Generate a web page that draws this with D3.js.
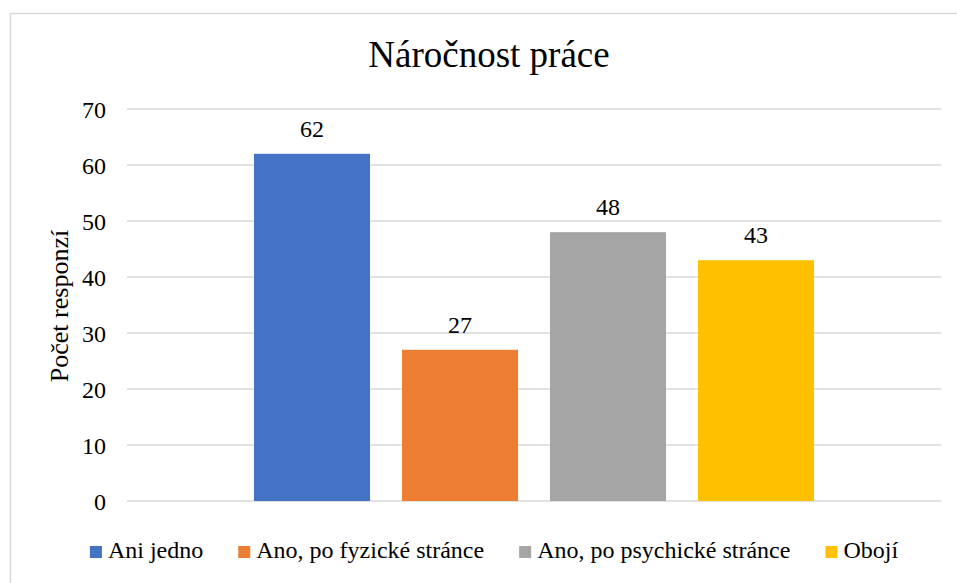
<!DOCTYPE html>
<html><head><meta charset="utf-8">
<script src="https://cdn.jsdelivr.net/npm/d3@7"></script>
<style>html,body{margin:0;padding:0;background:#fff;}svg{display:block;}svg text{font-family:"Liberation Serif";}</style>
</head><body>
<svg id="chart" width="957" height="583"></svg>
<script>
const title = "Náročnost práce";
const yAxisTitle = "Počet responzí";
const category = ["Náročnost práce"];
const seriesNames = ["Ani jedno", "Ano, po fyzické stránce", "Ano, po psychické stránce", "Obojí"];
const seriesValues = [62, 27, 48, 43];
const seriesColors = ["#4472C4", "#ED7D31", "#A5A5A5", "#FFC000"];
const yTicks = [0, 10, 20, 30, 40, 50, 60, 70];

const font = "Liberation Serif";
const svg = d3.select("#chart");
const W = 957, H = 583;
const plot = {left: 127, right: 941, top: 109, bottom: 501};

svg.append("rect").attr("x", 10.5).attr("y", 13.5).attr("width", W + 20).attr("height", H + 20)
  .attr("fill", "#fff").attr("stroke", "#D9D9D9").attr("stroke-width", 1.5);

const y = d3.scaleLinear().domain([0, 70]).range([plot.bottom, plot.top]);
const x0 = d3.scaleBand().domain(category).range([plot.left, plot.right]).paddingInner(0).paddingOuter(0.2268);
const x1 = d3.scaleBand().domain(seriesNames).range([0, x0.bandwidth()]).paddingInner(0.216).paddingOuter(0);

// gridlines
svg.append("g").selectAll("line").data(yTicks).join("line")
  .attr("x1", plot.left).attr("x2", plot.right)
  .attr("y1", d => y(d)).attr("y2", d => y(d))
  .attr("stroke", "#D9D9D9").attr("stroke-width", 1.5);

// y tick labels via axis
const yAxis = d3.axisLeft(y).tickValues(yTicks).tickSize(0).tickPadding(0);
const gy = svg.append("g").attr("transform", `translate(${106},0)`).call(yAxis);
gy.select(".domain").remove();
gy.attr("font-family", null).attr("font-size", null);
gy.selectAll("text").style("font-family", font).style("font-size", "24px").attr("fill", "#000")
  .attr("dy", "0.35em").attr("x", 0);

// bars
const data = seriesNames.map((s, i) => ({name: s, value: seriesValues[i], color: seriesColors[i]}));
const g = svg.append("g").attr("transform", `translate(${x0(category[0])},0)`);
g.selectAll("rect").data(data).join("rect")
  .attr("x", d => x1(d.name)).attr("width", x1.bandwidth())
  .attr("y", d => y(d.value)).attr("height", d => y(0) - y(d.value))
  .attr("fill", d => d.color);
g.selectAll("text").data(data).join("text")
  .attr("x", d => x1(d.name) + x1.bandwidth() / 2)
  .attr("y", d => y(d.value) - 17)
  .attr("text-anchor", "middle").style("font-family", font).style("font-size", "24px").attr("fill", "#000")
  .text(d => d.value);

// title
svg.append("text").attr("x", 489).attr("y", 67).attr("text-anchor", "middle")
  .style("font-family", font).style("font-size", "37px").attr("fill", "#000").text(title);

// y axis title
svg.append("text").attr("transform", `translate(68,306) rotate(-90)`).attr("text-anchor", "middle")
  .style("font-family", font).style("font-size", "26px").attr("fill", "#000").text(yAxisTitle);

// legend
const lg = svg.append("g");
const items = lg.selectAll("g").data(data).join("g");
items.append("rect").attr("width", 12).attr("height", 12).attr("y", 546).attr("fill", d => d.color);
items.append("text").attr("x", 18).attr("y", 558).style("font-family", font).style("font-size", "24px")
  .attr("fill", "#000").text(d => d.name);
const widths = [];
items.each(function() { widths.push(d3.select(this).select("text").node().getComputedTextLength()); });
const gap = 35;
const total = widths.reduce((a, w) => a + 18 + w, 0) + gap * (widths.length - 1);
let cx = 494 - total / 2;
items.each(function(d, i) {
  d3.select(this).attr("transform", `translate(${cx},0)`);
  cx += 18 + widths[i] + gap;
});
</script>
</body></html>
